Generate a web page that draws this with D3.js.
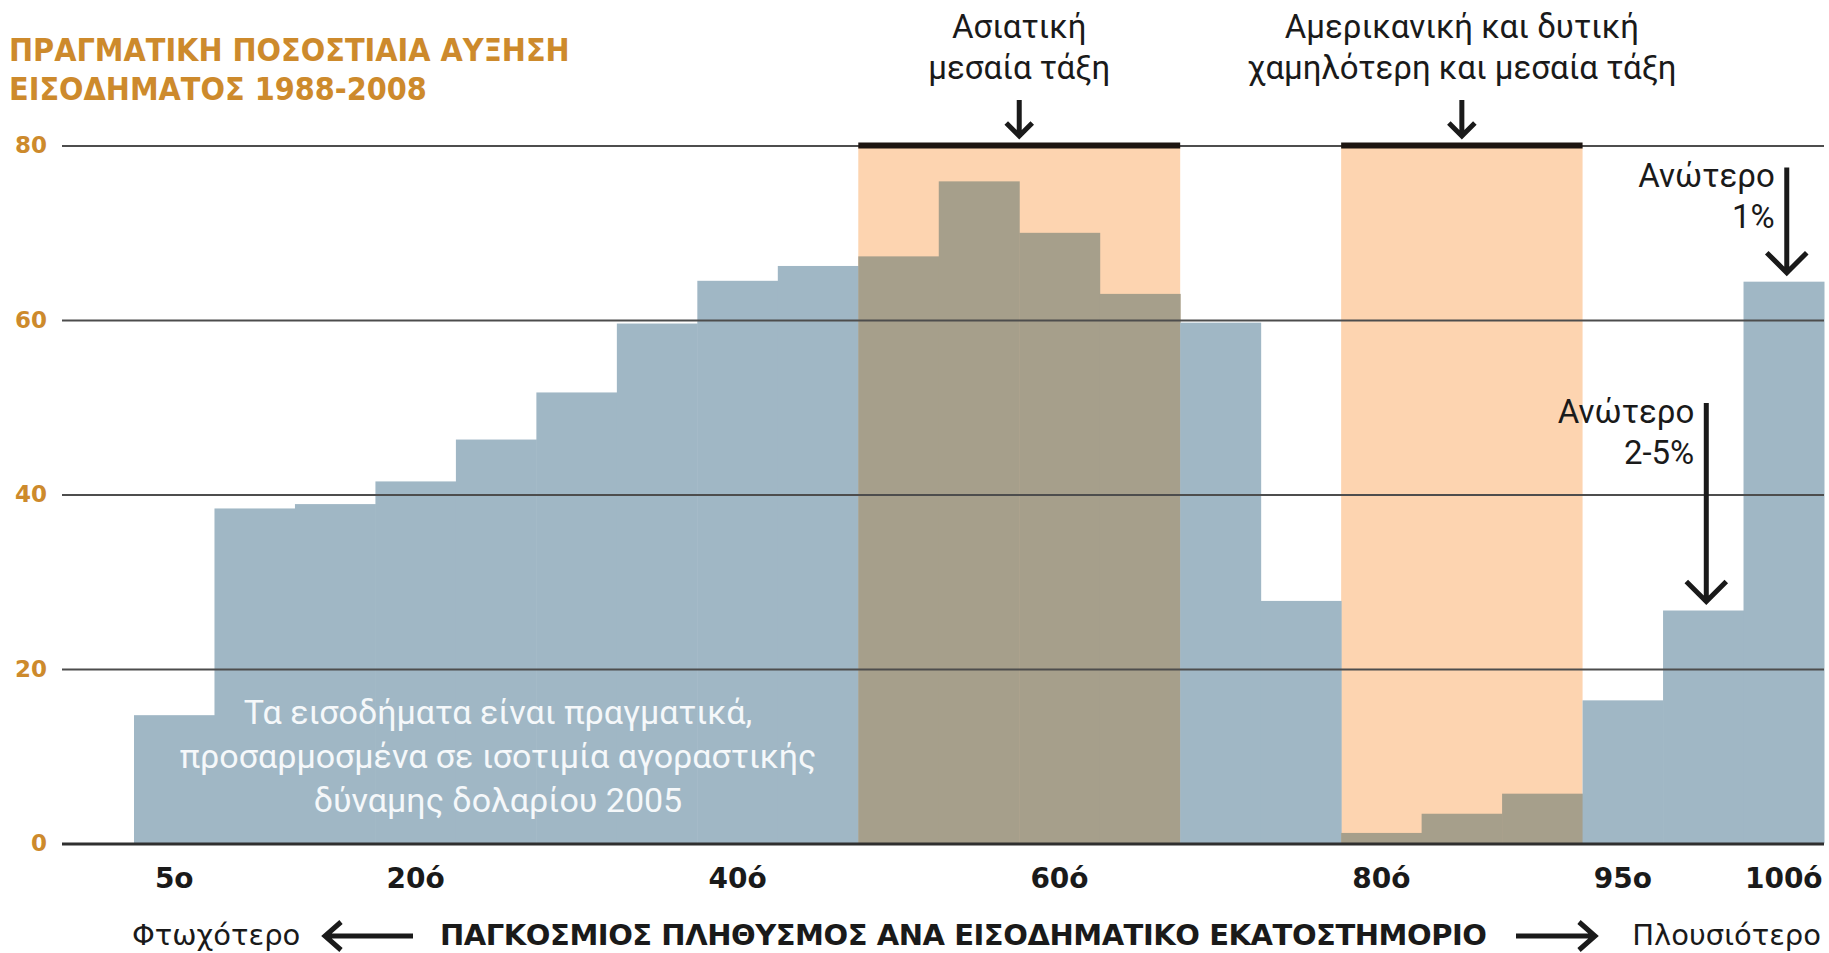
<!DOCTYPE html>
<html>
<head>
<meta charset="utf-8">
<script src="https://cdnjs.cloudflare.com/ajax/libs/d3/7.8.5/d3.min.js"></script>
<style>
  html, body { margin: 0; padding: 0; background: #fff; }
  svg { display: block; }
</style>
</head>
<body>
<div id="chart"></div>
<script>
// data
var groups = ["5","10","15","20","25","30","35","40","45","50","55","60","65","70","75","80","85","90","95","96-99","100"];
var growth = [14.7, 38.4, 38.9, 41.5, 46.3, 51.7, 59.6, 64.5, 66.2, 67.3, 75.9, 70.0, 63.0, 59.7, 27.8, 1.2, 3.4, 5.7, 16.4, 26.7, 64.4];
var xTickGroups = ["5","20","40","60","80","95","100"];
var xTickLabels = ["5ο","20ό","40ό","60ό","80ό","95ο","100ό"];
var yTicks = [0, 20, 40, 60, 80];

// highlighted bands (orange) and their labels
var bandFrom = ["50", "80"];
var bandTo = ["65", "90"];
var bandLabels = [["Ασιατική", "μεσαία τάξη"], ["Αμερικανική και δυτική", "χαμηλότερη και μεσαία τάξη"]];

// top-right callouts
var calloutGroups = ["100", "96-99"];
var calloutLabels = [["Ανώτερο", "1%"], ["Ανώτερο", "2-5%"]];
var calloutStart = [77.5, 50.5];

var titleLines = ["ΠΡΑΓΜΑΤΙΚΗ ΠΟΣΟΣΤΙΑΙΑ ΑΥΞΗΣΗ", "ΕΙΣΟΔΗΜΑΤΟΣ 1988-2008"];
var noteLines = ["Τα εισοδήματα είναι πραγματικά,", "προσαρμοσμένα σε ισοτιμία αγοραστικής", "δύναμης δολαρίου 2005"];
var axisTitle = "ΠΑΓΚΟΣΜΙΟΣ ΠΛΗΘΥΣΜΟΣ ΑΝΑ ΕΙΣΟΔΗΜΑΤΙΚΟ ΕΚΑΤΟΣΤΗΜΟΡΙΟ";
var poorer = "Φτωχότερο";
var richer = "Πλουσιότερο";

var W = 1829, H = 953;
var orange = "#cd8a2c";
var blue = "#a0b7c5";
var brown = "#a69f8b";
var peach = "#fdd4b0";

var svg = d3.select("#chart")
  .append("svg")
  .attr("width", W)
  .attr("height", H);

var x = d3.scaleBand()
  .domain(groups)
  .range([134, 1824])
  .padding(0);

var y = d3.scaleLinear()
  .domain([0, 80])
  .range([843.4, 145.6]);

function inBand(g) {
  var i = groups.indexOf(g);
  for (var k = 0; k < bandFrom.length; k++) {
    if (i >= groups.indexOf(bandFrom[k]) && i <= groups.indexOf(bandTo[k])) return true;
  }
  return false;
}

// orange highlight backgrounds
svg.selectAll(".band")
  .data(bandFrom)
  .enter()
  .append("rect")
  .attr("class", "band")
  .attr("x", function(d) { return x(d); })
  .attr("width", function(d, i) { return x(bandTo[i]) + x.bandwidth() - x(d); })
  .attr("y", y(80))
  .attr("height", y(0) - y(80))
  .style("fill", peach);

// bars
svg.selectAll(".bar")
  .data(groups)
  .enter()
  .append("rect")
  .attr("class", "bar")
  .attr("x", function(d) { return x(d); })
  .attr("width", x.bandwidth() + 0.5)
  .attr("y", function(d, i) { return y(growth[i]); })
  .attr("height", function(d, i) { return y(0) - y(growth[i]); })
  .style("fill", function(d) { return inBand(d) ? brown : blue; });

// y axis used as gridlines
var yAxis = svg.append("g")
  .attr("transform", "translate(62,0)")
  .call(d3.axisLeft(y).tickValues(yTicks).tickSize(-(1824 - 62)).tickPadding(15));
yAxis.select(".domain").remove();
yAxis.selectAll(".tick line")
  .style("stroke", function(d) { return d == 0 ? "#2f2f2f" : "#4d4d4d"; })
  .style("stroke-width", function(d) { return d == 0 ? 3 : 2; });
yAxis.selectAll(".tick text")
  .style("fill", orange)
  .style("font-family", "'DejaVu Sans', sans-serif")
  .style("font-weight", "bold")
  .style("font-size", "23px");

// thick black caps on highlight bands
svg.selectAll(".cap")
  .data(bandFrom)
  .enter()
  .append("line")
  .attr("x1", function(d) { return x(d); })
  .attr("x2", function(d, i) { return x(bandTo[i]) + x.bandwidth(); })
  .attr("y1", y(80))
  .attr("y2", y(80))
  .style("stroke", "#1d1511")
  .style("stroke-width", 6);

function downArrow(g, cx, y1, y2, h) {
  g.append("path")
    .attr("d", "M" + cx + "," + y1 + "L" + cx + "," + (y2 - 2) +
               "M" + (cx - h) + "," + (y2 - h) + "L" + cx + "," + y2 + "L" + (cx + h) + "," + (y2 - h))
    .style("fill", "none")
    .style("stroke", "#1a1a1a")
    .style("stroke-width", 5)
    .style("stroke-linejoin", "miter");
}

var annFont = "Roboto, 'Open Sans', sans-serif";

// band labels + arrows
bandFrom.forEach(function(d, i) {
  var cx = (x(d) + x(bandTo[i]) + x.bandwidth()) / 2;
  var g = svg.append("g");
  g.selectAll("text")
    .data(bandLabels[i])
    .enter()
    .append("text")
    .attr("x", cx)
    .attr("y", function(t, j) { return 38 + j * 41; })
    .attr("text-anchor", "middle")
    .style("font-family", annFont)
    .style("font-size", "33px")
    .style("fill", "#1a1a1a")
    .text(function(t) { return t; });
  downArrow(g, cx, 100, 136, 13);
});

// callouts for the top groups
calloutGroups.forEach(function(d, i) {
  var cx = x(d) + x.bandwidth() / 2 + 3;
  var top = y(calloutStart[i]);
  var tip = y(growth[groups.indexOf(d)]) - 9;
  var g = svg.append("g");
  g.selectAll("text")
    .data(calloutLabels[i])
    .enter()
    .append("text")
    .attr("x", cx - 12)
    .attr("y", function(t, j) { return top + 20 + j * 41; })
    .attr("text-anchor", "end")
    .style("font-family", annFont)
    .style("font-size", "33px")
    .style("fill", "#1a1a1a")
    .text(function(t) { return t; });
  downArrow(g, cx, top, tip, 20);
});

// note inside the bars
svg.append("g")
  .selectAll("text")
  .data(noteLines)
  .enter()
  .append("text")
  .attr("x", 498)
  .attr("y", function(t, j) { return 724 + j * 44; })
  .attr("text-anchor", "middle")
  .style("font-family", annFont)
  .style("font-size", "34px")
  .style("fill", "#f5f8fa")
  .text(function(t) { return t; });

// title
svg.append("g")
  .selectAll("text")
  .data(titleLines)
  .enter()
  .append("text")
  .attr("x", 9)
  .attr("y", function(t, j) { return 61 + j * 39; })
  .style("font-family", "'DejaVu Sans Condensed', 'DejaVu Sans', sans-serif")
  .style("font-stretch", "condensed")
  .style("font-weight", "bold")
  .style("font-size", "32px")
  .style("fill", orange)
  .text(function(t) { return t; });

// x axis labels
var xAxis = svg.append("g")
  .attr("transform", "translate(0," + y(0) + ")")
  .call(d3.axisBottom(x).tickValues(xTickGroups).tickSize(0).tickPadding(0)
    .tickFormat(function(d) { return xTickLabels[xTickGroups.indexOf(d)]; }));
xAxis.select(".domain").remove();
xAxis.selectAll(".tick text")
  .attr("y", 45)
  .attr("dy", 0)
  .style("font-family", "'DejaVu Sans', sans-serif")
  .style("font-weight", "bold")
  .style("font-size", "28px")
  .style("fill", "#1a1a1a");

// bottom axis title with arrows
var bottom = svg.append("g");
bottom.append("text")
  .attr("x", 132)
  .attr("y", 945)
  .style("font-family", "'DejaVu Sans', sans-serif")
  .style("font-size", "29px")
  .style("fill", "#1a1a1a")
  .text(poorer);
bottom.append("text")
  .attr("x", 440)
  .attr("y", 945)
  .attr("textLength", 1047)
  .attr("lengthAdjust", "spacing")
  .style("font-family", "'DejaVu Sans', sans-serif")
  .style("font-weight", "bold")
  .style("font-size", "29px")
  .style("fill", "#1a1a1a")
  .text(axisTitle);
bottom.append("text")
  .attr("x", 1821)
  .attr("y", 945)
  .attr("text-anchor", "end")
  .style("font-family", "'DejaVu Sans', sans-serif")
  .style("font-size", "29px")
  .style("fill", "#1a1a1a")
  .text(richer);

bottom.append("path")
  .attr("d", "M413,936L327,936M341,922L325,936L341,950")
  .style("fill", "none").style("stroke", "#1a1a1a").style("stroke-width", 5);
bottom.append("path")
  .attr("d", "M1516,936L1593,936M1579,922L1595,936L1579,950")
  .style("fill", "none").style("stroke", "#1a1a1a").style("stroke-width", 5);
</script>
</body>
</html>
